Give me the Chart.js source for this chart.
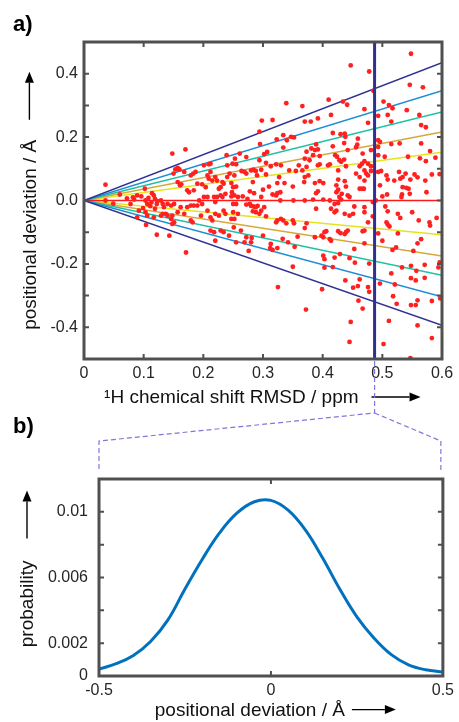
<!DOCTYPE html>
<html lang="en">
<head>
<meta charset="utf-8">
<title>Positional deviation vs 1H chemical shift RMSD</title>
<script src="https://cdn.jsdelivr.net/npm/chart.js@4.4.1/dist/chart.umd.min.js"></script>
<style>
  html, body { margin: 0; padding: 0; background: #ffffff; }
  #wrap { position: relative; width: 459px; height: 722px; overflow: hidden; }
  #wrap canvas { position: absolute; left: 0; }
  #chartA { top: 0; }
  #chartB { top: 412px; }
  #links { top: 0; pointer-events: none; }
</style>
</head>
<body>
<div id="wrap">
  <canvas id="chartA" width="459" height="412"></canvas>
  <canvas id="chartB" width="459" height="310"></canvas>
  <canvas id="links" width="459" height="722"></canvas>
</div>
<script>
// ================= DATA =================
// Panel a: 1H chemical shift RMSD (ppm) vs positional deviation (Å)
const rmsd = [
  0.036,0.036,0.049,0.060,0.072,0.078,0.082,0.084,0.089,0.096,
  0.102,0.103,0.106,0.114,0.117,0.119,0.122,0.123,0.111,0.099,
  0.092,0.089,0.103,0.106,0.117,0.119,0.122,0.104,0.113,0.108,
  0.148,0.170,0.153,0.155,0.157,0.160,0.150,0.168,0.179,0.183,
  0.187,0.201,0.209,0.212,0.239,0.240,0.157,0.161,0.163,0.173,
  0.176,0.184,0.190,0.198,0.204,0.207,0.212,0.209,0.215,0.220,
  0.223,0.226,0.229,0.232,0.234,0.240,0.244,0.248,0.237,0.232,
  0.229,0.223,0.220,0.218,0.207,0.201,0.193,0.198,0.190,0.184,
  0.179,0.173,0.162,0.151,0.146,0.140,0.134,0.129,0.132,0.137,
  0.129,0.132,0.140,0.148,0.146,0.148,0.151,0.143,0.157,0.168,
  0.179,0.182,0.196,0.207,0.212,0.215,0.220,0.226,0.234,0.237,
  0.212,0.218,0.220,0.229,0.234,0.243,0.171,
  0.339,0.366,0.298,0.316,0.294,0.323,0.334,0.340,0.347,0.352,
  0.370,0.295,0.302,0.307,0.261,0.272,0.334,0.253,0.249,0.255,
  0.294,0.305,0.313,0.322,0.330,0.264,0.269,0.272,0.280,0.284,
  0.288,0.297,0.252,0.290,0.305,0.327,0.344,0.355,0.360,0.366,
  0.370,0.283,0.324,0.336,0.350,0.369,0.247,0.255,0.250,0.278,
  0.285,0.300,0.310,0.316,0.322,0.324,0.329,0.247,0.252,0.258,
  0.266,0.274,0.297,0.329,0.351,0.370,0.250,0.255,0.272,0.278,
  0.280,0.284,0.288,0.291,0.297,0.302,0.288,0.294,0.283,0.250,
  0.258,0.247,0.252,0.251,0.263,0.272,0.281,0.269,0.280,0.255,
  0.276,0.300,0.305,0.322,0.324,0.330,0.334,0.350,0.352,0.339,
  0.358,0.333,0.342,0.353,0.313,0.312,0.316,0.324,0.370,0.350,
  0.325,0.372,
  0.447,0.478,0.485,0.410,0.434,0.441,0.470,0.476,0.380,0.392,
  0.414,0.417,0.430,0.437,0.438,0.459,0.436,0.417,0.389,0.381,
  0.387,0.392,0.373,0.458,0.456,0.442,0.467,0.481,0.384,0.395,
  0.378,0.370,0.421,0.424,0.428,0.436,0.431,0.373,0.392,0.395,
  0.409,0.412,0.439,0.462,0.466,0.470,0.476,0.481,0.470,0.473,
  0.476,0.481,0.376,0.387,0.395,0.401,0.426,0.426,0.423,0.437,
  0.439,0.428,0.432,0.423,0.426,0.392,0.389,0.442,0.445,0.462,
  0.466,0.469,0.470,0.462,0.456,0.384,0.401,0.412,0.420,0.426,
  0.431,0.453,0.470,0.484,0.489,0.389,0.414,0.423,0.420,0.437,
  0.445,0.451,0.470,0.484,0.476,0.373,0.387,0.398,0.401,0.403,
  0.406,0.412,0.414,0.426,0.430,0.437,0.439,0.442,0.467,0.470,
  0.470,0.401,0.403,0.420,0.429,0.445,0.453,0.454,0.403,0.417,
  0.478,0.399,0.438,0.451,0.459,0.462,0.476,0.478,0.460,0.467,
  0.447,0.445,
  0.548,0.546,0.568,0.502,0.511,0.517,0.541,0.562,0.493,0.509,
  0.515,0.565,0.573,0.493,0.496,0.515,0.529,0.565,0.580,0.493,
  0.504,0.543,0.563,0.573,0.589,0.493,0.493,0.498,0.507,0.509,
  0.520,0.528,0.530,0.534,0.539,0.554,0.559,0.572,0.583,0.596,
  0.496,0.534,0.540,0.544,0.547,0.574,0.500,0.508,0.533,0.546,
  0.532,0.505,0.509,0.526,0.530,0.550,0.591,0.561,0.579,0.580,
  0.507,0.509,0.512,0.493,0.526,0.500,0.565,0.559,0.523,0.517,
  0.552,0.596,0.594,0.515,0.533,0.548,0.557,0.571,0.521,0.548,
  0.556,0.571,0.496,0.518,0.524,0.548,0.556,0.559,0.583,0.597,
  0.511,0.559,0.583,0.502,0.547
];
const deviation = [
  0.050,0.000,-0.010,0.019,0.007,-0.011,0.010,0.003,0.016,0.013,
  0.037,0.000,-0.011,0.023,0.016,0.005,-0.011,-0.002,-0.018,-0.024,
  -0.032,-0.053,-0.037,-0.048,-0.053,-0.026,-0.108,-0.077,-0.006,0.008,
  0.148,0.161,0.098,0.100,0.103,0.098,0.085,0.090,0.079,0.085,
  0.090,0.111,0.114,0.116,0.143,0.111,0.058,0.048,0.051,0.032,
  0.026,0.032,0.053,0.051,0.042,0.079,0.090,0.069,0.063,0.074,
  0.063,0.037,0.042,0.058,0.053,0.074,0.085,0.026,0.021,0.011,
  0.016,0.011,-0.005,0.011,0.011,0.011,0.000,-0.011,-0.016,-0.016,
  -0.016,-0.021,-0.021,-0.011,-0.016,-0.011,-0.021,0.000,-0.011,-0.042,
  -0.048,-0.042,-0.048,-0.048,-0.058,-0.074,-0.069,-0.111,-0.037,-0.042,
  -0.063,-0.069,-0.048,-0.032,-0.053,-0.063,-0.042,-0.048,-0.032,-0.042,
  -0.095,-0.100,-0.127,-0.095,-0.100,-0.111,-0.164,
  0.307,0.298,0.252,0.254,0.217,0.193,0.206,0.190,0.201,0.199,
  0.249,0.178,0.146,0.153,0.148,0.137,0.167,0.132,0.116,0.114,
  0.127,0.119,0.108,0.114,0.111,0.093,0.090,0.085,0.095,0.097,
  0.093,0.097,0.079,0.079,0.082,0.074,0.095,0.093,0.111,0.095,
  0.074,0.058,0.055,0.055,0.044,0.058,0.055,0.044,0.042,0.029,
  0.023,0.034,0.044,0.019,0.016,0.023,0.026,0.013,0.016,0.011,
  0.013,0.005,0.011,0.000,0.000,0.000,-0.011,-0.011,-0.013,-0.011,
  -0.017,-0.019,-0.021,-0.017,-0.032,-0.021,-0.037,-0.042,-0.034,-0.037,
  -0.042,-0.058,-0.058,-0.085,-0.095,-0.116,-0.118,-0.132,-0.132,-0.132,
  -0.159,-0.111,-0.050,-0.069,-0.063,-0.058,-0.063,-0.063,-0.072,-0.072,
  -0.114,-0.121,-0.132,-0.146,-0.137,-0.150,-0.156,-0.150,-0.087,-0.209,
  -0.273,-0.344,
  0.426,0.407,0.346,0.318,0.312,0.302,0.288,0.245,0.249,0.259,
  0.270,0.213,0.209,0.211,0.201,0.195,0.181,0.171,0.177,0.164,
  0.159,0.161,0.154,0.176,0.168,0.159,0.148,0.159,0.143,0.140,
  0.127,0.132,0.143,0.138,0.127,0.129,0.122,0.106,0.111,0.114,
  0.111,0.114,0.108,0.108,0.116,0.124,0.116,0.108,0.095,0.085,
  0.079,0.093,0.079,0.055,0.061,0.055,0.095,0.066,0.048,0.061,
  0.044,0.011,0.021,0.026,0.034,0.029,0.023,0.016,0.011,0.037,
  0.037,0.037,0.063,0.074,0.085,0.003,0.003,0.000,-0.011,-0.008,
  0.003,-0.019,-0.021,-0.005,0.000,-0.026,-0.026,-0.032,-0.037,-0.042,
  -0.048,-0.042,-0.037,-0.050,-0.069,-0.072,-0.116,-0.111,-0.116,-0.100,
  -0.097,-0.122,-0.127,-0.097,-0.103,-0.106,-0.100,-0.095,-0.097,-0.095,
  -0.135,-0.174,-0.185,-0.180,-0.169,-0.182,-0.153,-0.196,-0.212,-0.210,
  -0.199,-0.280,-0.252,-0.275,-0.270,-0.249,-0.273,-0.288,-0.316,-0.341,
  -0.383,-0.446,
  0.463,0.365,0.357,0.312,0.301,0.291,0.285,0.270,0.267,0.270,
  0.249,0.238,0.231,0.190,0.185,0.178,0.180,0.180,0.156,0.169,
  0.138,0.138,0.133,0.124,0.135,0.143,0.090,0.093,0.079,0.066,
  0.063,0.090,0.069,0.074,0.085,0.082,0.073,0.063,0.082,0.083,
  0.048,0.042,0.040,0.037,0.066,0.026,0.013,0.019,0.019,0.021,
  0.011,-0.019,-0.034,-0.042,-0.055,-0.037,-0.055,-0.063,-0.069,-0.079,
  -0.069,-0.076,-0.082,-0.104,-0.104,-0.127,-0.122,-0.135,-0.148,-0.156,
  -0.159,-0.195,-0.211,-0.230,-0.211,-0.206,-0.222,-0.203,-0.265,-0.245,
  -0.252,-0.244,-0.262,-0.302,-0.326,-0.330,-0.330,-0.315,-0.317,-0.309,
  -0.380,-0.394,-0.434,-0.453,-0.497
];
// fan of lines from the origin: deviation reached at the right edge (RMSD 0.6)
const fanEndRMSD = 0.6;
const fanUpper = [0.435, 0.346, 0.279, 0.216, 0.152];
const fanLower = [-0.394, -0.304, -0.236, -0.175, -0.108];
const cutRMSD = 0.487;                       // selected RMSD (vertical line)
const rmsdTicks = [0, 0.1, 0.2, 0.3, 0.4, 0.5, 0.6];
const rmsdTickLabels = ['0', '0.1', '0.2', '0.3', '0.4', '0.5', '0.6'];
const devTicks = [-0.4, -0.2, 0, 0.2, 0.4];
const devTickLabels = ['-0.4', '-0.2', '0.0', '0.2', '0.4'];

// Panel b: probability distribution of positional deviation at the selected RMSD
const posDev = [-0.5,-0.45,-0.4,-0.35,-0.3,-0.25,-0.2,-0.15,-0.1,-0.05,0,
                 0.05,0.1,0.15,0.2,0.25,0.3,0.35,0.4,0.45,0.5];
const probability = [0.00042,0.00075,0.00125,0.0021,0.0034,0.0053,0.0071,0.0087,0.0099,0.0106,0.0107,
                     0.0101,0.0089,0.0072,0.0053,0.0036,0.0023,0.0013,0.00068,0.00038,0.00024];
const posTicks = [-0.5, 0, 0.5];
const posTickLabels = ['-0.5', '0', '0.5'];
const probTicks = [0, 0.002, 0.006, 0.01];
const probTickLabels = ['0', '0.002', '0.006', '0.01'];

// ================= STYLE =================
const FONT = "'Liberation Sans', Arial, Helvetica, sans-serif";
const TICK_INK = '#262626';
const TITLE_INK = '#111111';
const FRAME = '#505050';
const fanColors = ['#2E3192', '#1D8ED6', '#1CC2A2', '#D6A83C', '#E4E41E'];
const zeroColor = '#FF1A1A';
const dotColor = '#FF2020';
const cutColor = '#2E3192';
const curveColor = '#0072BD';
const linkColor = '#7F77DC';
const TICK_SIZE = 16;
const TITLE_SIZE = 19;

const mctx = document.createElement('canvas').getContext('2d');
function makeTitle(base, lead, gap, len) {
  mctx.font = TITLE_SIZE + 'px ' + FONT;
  const sw = mctx.measureText(' ').width;
  const prefix = ' '.repeat(Math.max(0, Math.round(lead / sw))) + base;
  const text = prefix + ' '.repeat(Math.max(0, Math.round((gap + len) / sw)));
  return { text, prefix, gap, len };
}
const labelFrom = (vals, labels) => v => {
  const i = vals.findIndex(t => Math.abs(t - v) < 1e-6);
  return i < 0 ? '' : labels[i];
};

function drawArrow(ctx, x1, y1, x2, y2) {
  const ang = Math.atan2(y2 - y1, x2 - x1), hl = 11, hw = 4.5;
  const bx = x2 - hl * Math.cos(ang), by = y2 - hl * Math.sin(ang);
  ctx.beginPath(); ctx.moveTo(x1, y1); ctx.lineTo(bx, by); ctx.stroke();
  ctx.beginPath(); ctx.moveTo(x2, y2);
  ctx.lineTo(bx + hw * Math.sin(ang), by - hw * Math.cos(ang));
  ctx.lineTo(bx - hw * Math.sin(ang), by + hw * Math.cos(ang));
  ctx.closePath(); ctx.fill();
}

const boxPlugin = {
  id: 'box',
  afterDraw(chart, args, o) {
    const ctx = chart.ctx, a = chart.chartArea, xs = chart.scales.x, ys = chart.scales.y;
    ctx.save();
    ctx.strokeStyle = FRAME; ctx.lineWidth = 2;
    ctx.beginPath();
    xs.ticks.forEach(t => {
      const p = xs.getPixelForValue(t.value);
      ctx.moveTo(p, a.bottom); ctx.lineTo(p, a.bottom - o.tick);
      ctx.moveTo(p, a.top); ctx.lineTo(p, a.top + o.tick);
    });
    ys.ticks.forEach(t => {
      const p = ys.getPixelForValue(t.value);
      ctx.moveTo(a.left, p); ctx.lineTo(a.left + o.tick, p);
      ctx.moveTo(a.right, p); ctx.lineTo(a.right - o.tick, p);
    });
    ctx.stroke();
    ctx.lineWidth = 3;
    ctx.strokeRect(a.left, a.top, a.right - a.left, a.bottom - a.top);
    // axis-title arrows
    ctx.strokeStyle = '#000'; ctx.fillStyle = '#000'; ctx.lineWidth = 1.4;
    ctx.font = TITLE_SIZE + 'px ' + FONT;
    const lh = TITLE_SIZE * 1.2;
    let full = ctx.measureText(o.x.text).width, pre = ctx.measureText(o.x.prefix).width;
    const cx = (xs.left + xs.right) / 2, cy = xs.bottom - o.xPad - lh / 2 - 1;
    const x1 = cx - full / 2 + pre + o.x.gap;
    drawArrow(ctx, x1, cy, x1 + o.x.len, cy);
    full = ctx.measureText(o.y.text).width; pre = ctx.measureText(o.y.prefix).width;
    const ycx = ys.left + o.yPad + lh / 2 - 1, ycy = (ys.top + ys.bottom) / 2;
    const y1 = ycy + full / 2 - pre - o.y.gap;
    drawArrow(ctx, ycx, y1, ycx, y1 - o.y.len);
    ctx.restore();
  }
};

const tickFont = { family: FONT, size: TICK_SIZE, lineHeight: 1.2 };
const titleFont = { family: FONT, size: TITLE_SIZE, lineHeight: 1.2 };
const panelFont = { family: FONT, size: 22, weight: 'bold', lineHeight: 1.2 };
const noGrid = { display: false, drawTicks: false };

// ================= PANEL A =================
const aX = makeTitle('\u00B9H chemical shift RMSD / ppm', 0, 13, 49);
const aY = makeTitle('positional deviation / \u00C5', 0, 20, 48);
const A_XPAD = 2.6, A_YPAD = 6;

const datasetsA = [];
datasetsA.push({
  label: 'selected RMSD', showLine: true, order: 0,
  data: [{ x: cutRMSD, y: -0.5 }, { x: cutRMSD, y: 0.5 }],
  borderColor: cutColor, borderWidth: 3, pointRadius: 0
});
datasetsA.push({
  label: 'residues', order: 1,
  data: rmsd.map((x, i) => ({ x, y: deviation[i] })),
  backgroundColor: dotColor, borderWidth: 0, pointRadius: 2.4
});
datasetsA.push({
  label: 'zero', showLine: true, order: 2,
  data: [{ x: 0, y: 0 }, { x: fanEndRMSD, y: 0 }],
  borderColor: zeroColor, borderWidth: 1.5, pointRadius: 0
});
fanUpper.forEach((v, i) => datasetsA.push({
  label: 'upper ' + i, showLine: true, order: 3,
  data: [{ x: 0, y: 0 }, { x: fanEndRMSD, y: v }],
  borderColor: fanColors[i], borderWidth: 1.5, pointRadius: 0
}));
fanLower.forEach((v, i) => datasetsA.push({
  label: 'lower ' + i, showLine: true, order: 3,
  data: [{ x: 0, y: 0 }, { x: fanEndRMSD, y: v }],
  borderColor: fanColors[i], borderWidth: 1.5, pointRadius: 0
}));

const chartA = new Chart(document.getElementById('chartA'), {
  type: 'scatter',
  data: { datasets: datasetsA },
  options: {
    responsive: false, animation: false, devicePixelRatio: 1, events: [],
    layout: { padding: { left: 13, right: 17, top: 0, bottom: 0 } },
    plugins: {
      legend: { display: false }, tooltip: { enabled: false },
      title: { display: true, text: 'a)', align: 'start', color: '#000', font: panelFont, padding: { top: 12, bottom: 3.6 } },
      box: { tick: 5, x: aX, y: aY, xPad: A_XPAD, yPad: A_YPAD }
    },
    scales: {
      x: {
        type: 'linear', min: 0, max: 0.6,
        grid: noGrid, border: { display: false },
        ticks: { stepSize: 0.1, autoSkip: false, maxRotation: 0, padding: 5, color: TICK_INK, font: tickFont,
                 callback: labelFrom(rmsdTicks, rmsdTickLabels) },
        title: { display: true, text: aX.text, color: TITLE_INK, font: titleFont, padding: { top: 0, bottom: A_XPAD } },
        afterFit: s => { s.height = 53; }
      },
      y: {
        type: 'linear', min: -0.5, max: 0.5,
        grid: noGrid, border: { display: false },
        ticks: { stepSize: 0.1, autoSkip: false, padding: 6, color: TICK_INK, font: tickFont,
                 callback: labelFrom(devTicks, devTickLabels) },
        title: { display: true, text: aY.text, color: TITLE_INK, font: titleFont, padding: { top: A_YPAD, bottom: 0 } },
        afterFit: s => { s.width = 71; }
      }
    }
  },
  plugins: [boxPlugin]
});

// ================= PANEL B =================
const bX = makeTitle('positional deviation / \u00C5', 13, 7, 44);
const bY = makeTitle('probability', 14, 22, 48);
const B_XPAD = 0, B_YPAD = 3.6;

const chartB = new Chart(document.getElementById('chartB'), {
  type: 'scatter',
  data: {
    datasets: [{
      label: 'probability', showLine: true,
      data: posDev.map((x, i) => ({ x, y: probability[i] })),
      borderColor: curveColor, borderWidth: 3, pointRadius: 0,
      tension: 0.4
    }]
  },
  options: {
    responsive: false, animation: false, devicePixelRatio: 1, events: [],
    layout: { padding: { left: 13, right: 13, top: 0, bottom: 0 } },
    plugins: {
      legend: { display: false }, tooltip: { enabled: false },
      title: { display: true, text: 'b)', align: 'start', color: '#000', font: panelFont, padding: { top: 1.8, bottom: 38.8 } },
      box: { tick: 5, x: bX, y: bY, xPad: B_XPAD, yPad: B_YPAD }
    },
    scales: {
      x: {
        type: 'linear', min: -0.5, max: 0.5,
        grid: noGrid, border: { display: false },
        ticks: { stepSize: 0.5, autoSkip: false, maxRotation: 0, padding: 5, color: TICK_INK, font: tickFont,
                 callback: labelFrom(posTicks, posTickLabels) },
        title: { display: true, text: bX.text, color: TITLE_INK, font: titleFont, padding: { top: 0, bottom: B_XPAD } },
        afterFit: s => { s.height = 46; }
      },
      y: {
        type: 'linear', min: 0, max: 0.012,
        grid: noGrid, border: { display: false },
        ticks: { stepSize: 0.002, autoSkip: false, padding: 11, color: TICK_INK, font: tickFont,
                 callback: labelFrom(probTicks, probTickLabels) },
        title: { display: true, text: bY.text, color: TITLE_INK, font: titleFont, padding: { top: B_YPAD, bottom: 0 } },
        afterFit: s => { s.width = 86; }
      }
    }
  },
  plugins: [boxPlugin]
});

// ================= dashed zoom links between the panels =================
(function drawLinks() {
  const c = document.getElementById('links').getContext('2d');
  const aA = chartA.chartArea, aB = chartB.chartArea;
  const offB = document.getElementById('chartB').offsetTop;
  const xc = chartA.scales.x.getPixelForValue(cutRMSD);
  const yStart = aA.bottom + 2, yKink = aA.bottom + 54;
  const bTop = offB + aB.top;
  const yCorner = bTop - 38, yEnd = bTop - 9;
  c.strokeStyle = linkColor; c.lineWidth = 1.2; c.setLineDash([5, 3]);
  c.beginPath();
  c.moveTo(xc, yStart); c.lineTo(xc, yKink);
  c.lineTo(aB.left, yCorner); c.lineTo(aB.left, yEnd);
  c.moveTo(xc, yKink); c.lineTo(aB.right - 2, yCorner); c.lineTo(aB.right - 2, yEnd);
  c.stroke();
})();
</script>
</body>
</html>
